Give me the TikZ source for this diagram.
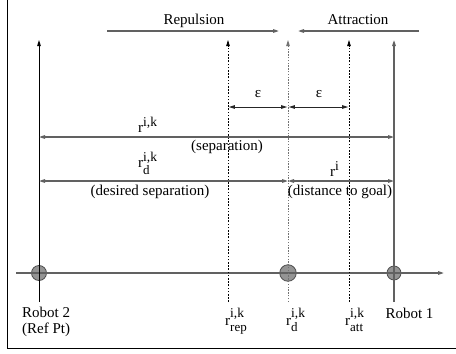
\documentclass[tikz,border=0pt]{standalone}
\usepackage{fontspec}
\setmainfont{Liberation Serif}
\usetikzlibrary{arrows.meta}
% r with raised superscript and lowered subscript, set as plain text
\newcommand{\rsym}[4]{r\rlap{\raisebox{#3}{\fontsize{13.5}{13.5}\selectfont #1}}\raisebox{#4}{\fontsize{13}{13}\selectfont #2}}
\begin{document}
\begin{tikzpicture}[x=1pt,y=-1pt,
  font=\fontsize{15}{14}\selectfont,
  >={Triangle[length=6pt,width=3.5pt]},
  gline/.style={draw=black!62,line width=1.2pt},
  dimline/.style={gline,<->},
  epsline/.style={draw=black!85,line width=0.9pt,<->,shorten <=0.8pt,shorten >=0.8pt},
  guide/.style={draw=black,line width=0.8pt,dash pattern=on 1.6pt off 1.6pt},
  goalguide/.style={draw=black!55,line width=1pt,dash pattern=on 1.4pt off 1.4pt},
  disc/.style={circle,fill=black!42,draw=black!70,line width=0.8pt,inner sep=0pt},
  lbl/.style={inner sep=0pt,anchor=base},
  rlbl/.style={inner sep=0pt,anchor=base west}]
\useasboundingbox (0,0) rectangle (456,354);

% frame
\draw[black,line width=0.8pt] (7,0) -- (7,348) -- (456,348);

% reference points along the axis
\coordinate (r2top) at (39,40);  \coordinate (r2bot) at (39,302);
\coordinate (reptop) at (228,40); \coordinate (repbot) at (228,302);
\coordinate (rdtop) at (288,40);  \coordinate (rdbot) at (288,302);
\coordinate (atttop) at (349,40); \coordinate (attbot) at (349,302);
\coordinate (r1top) at (394,40);  \coordinate (r1bot) at (394,302);
\coordinate (axL) at (16,273);    \coordinate (axR) at (444,273);

% robots and goal point
\node[disc,minimum size=15pt] (robot2) at (39,273) {};
\node[disc,minimum size=16.5pt] (goal) at (288,273) {};
\node[disc,minimum size=14pt] (robot1) at (394,273) {};

% axis and vertical markers
\draw[gline,->] (axL) -- (axR);
\draw[black,line width=1pt,->] (r2bot) -- (r2top);
\draw[gline,->] (r1bot) -- (r1top);
\draw[guide,->] (repbot) -- (reptop);
\draw[goalguide,->] (rdbot) -- (rdtop);
\draw[guide,->] (attbot) -- (atttop);

% repulsion / attraction directions
\coordinate (repL) at (107,31); \coordinate (repR) at (279,31);
\coordinate (attR) at (419,31); \coordinate (attL) at (298,31);
\draw[gline,->] (repL) -- (repR);
\draw[gline,->] (attR) -- (attL);
\node[lbl] (replbl) at (194,24) {Repulsion};
\node[lbl] (attlbl) at (358,24) {Attraction};

% epsilon bands
\coordinate (e0) at (228,107); \coordinate (e1) at (288,107); \coordinate (e2) at (349,107);
\draw[epsline] (e0) -- (e1);
\draw[epsline] (e1) -- (e2);
\node[lbl] (eps1) at (258,97) {ε};
\node[lbl] (eps2) at (319,97) {ε};

% separation
\coordinate (s0) at (39,137); \coordinate (s1) at (394,137);
\draw[dimline] (s0) -- (s1);
\node[rlbl] (rik) at (138,132) {\rsym{i,k}{}{6pt}{0pt}};
\node[lbl] (seplbl) at (227,150) {(separation)};

% desired separation and distance to goal
\coordinate (d0) at (39,181); \coordinate (d1) at (288,181); \coordinate (d2) at (394,181);
\draw[dimline] (d0) -- (d1);
\draw[dimline] (d1) -- (d2);
\node[rlbl] (rdik) at (138,167) {\rsym{i,k}{d}{6pt}{-7pt}};
\node[lbl] (deslbl) at (150,195) {(desired separation)};
\node[rlbl] (ri) at (330,176) {\rsym{i}{}{6pt}{0pt}};
\node[lbl] (goallbl) at (340,195) {(distance to goal)};

% axis labels
\node[rlbl] (r2lbl) at (22,317.5) {Robot 2};
\node[rlbl] (r2ref) at (22,333) {(Ref Pt)};
\node[lbl] (r1lbl) at (409.5,318) {Robot 1};
\node[rlbl] (rreplbl) at (225,325) {\rsym{i,k}{rep}{8pt}{-6pt}};
\node[rlbl] (rdlbl) at (286,325) {\rsym{i,k}{d}{8pt}{-6pt}};
\node[rlbl] (rattlbl) at (345,325) {\rsym{i,k}{att}{8pt}{-6pt}};
\end{tikzpicture}
\end{document}
